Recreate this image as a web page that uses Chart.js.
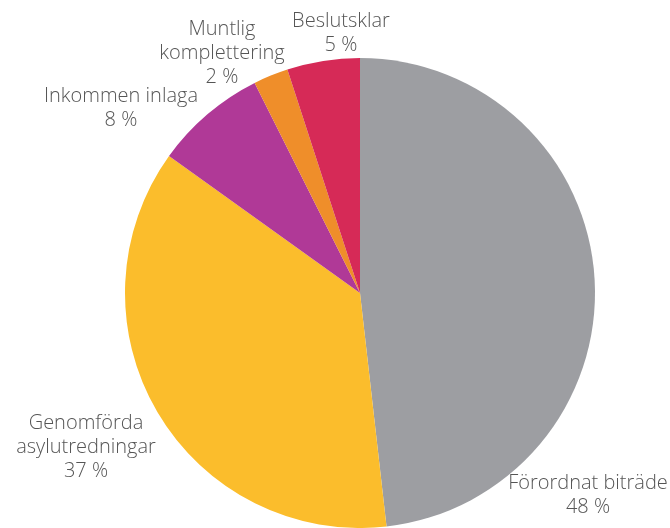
<!DOCTYPE html>
<html>
<head>
<meta charset="utf-8">
<script src="https://cdn.jsdelivr.net/npm/chart.js@4"></script>
<style>
    html, body { margin: 0; padding: 0; background: #fff; }
    #wrap { width: 670px; height: 528px; }
</style>
</head>
<body>
<div id="wrap"><canvas id="pieChart" width="670" height="528"></canvas></div>
<script>
// Data (andel i procent, medsols från toppen)
const categories = [
    ["Förordnat biträde"],
    ["Genomförda", "asylutredningar"],
    ["Inkommen inlaga"],
    ["Muntlig", "komplettering"],
    ["Beslutsklar"]
];
const shares = [48.2, 36.7, 7.7, 2.4, 5.0];
const colors = ["#9d9ea2", "#fbbd2c", "#b03997", "#ef8e2a", "#d62a57"];

// Label placement: text centre x, first baseline y
const labelPos = [
    { x: 588, y: 489 },
    { x: 86, y: 429 },
    { x: 121, y: 102 },
    { x: 222, y: 35 },
    { x: 341, y: 27 }
];

// Draw outside labels
const outsideLabels = {
    id: "outsideLabels",
    afterDraw(chart) {
        const ctx = chart.ctx;
        ctx.save();
        ctx.font = "300 20px 'Open Sans', 'Lato', sans-serif";
        ctx.fillStyle = "#555555";
        ctx.textAlign = "center";
        ctx.textBaseline = "alphabetic";
        chart.data.labels.forEach((lines, i) => {
            const p = labelPos[i];
            const all = lines.concat([Math.round(shares[i]) + " %"]);
            all.forEach((t, j) => ctx.fillText(t, p.x, p.y + j * 24));
        });
        ctx.restore();
    }
};

new Chart(document.getElementById("pieChart"), {
    type: "pie",
    data: {
        labels: categories,
        datasets: [{ data: shares, backgroundColor: colors, borderWidth: 0, hoverOffset: 0, offset: 0 }]
    },
    options: {
        responsive: false,
        animation: false,
        layout: { padding: { top: 58, bottom: -2, left: 50, right: 0 } },
        plugins: { legend: { display: false }, tooltip: { enabled: false } }
    },
    plugins: [outsideLabels]
});
</script>
</body>
</html>
